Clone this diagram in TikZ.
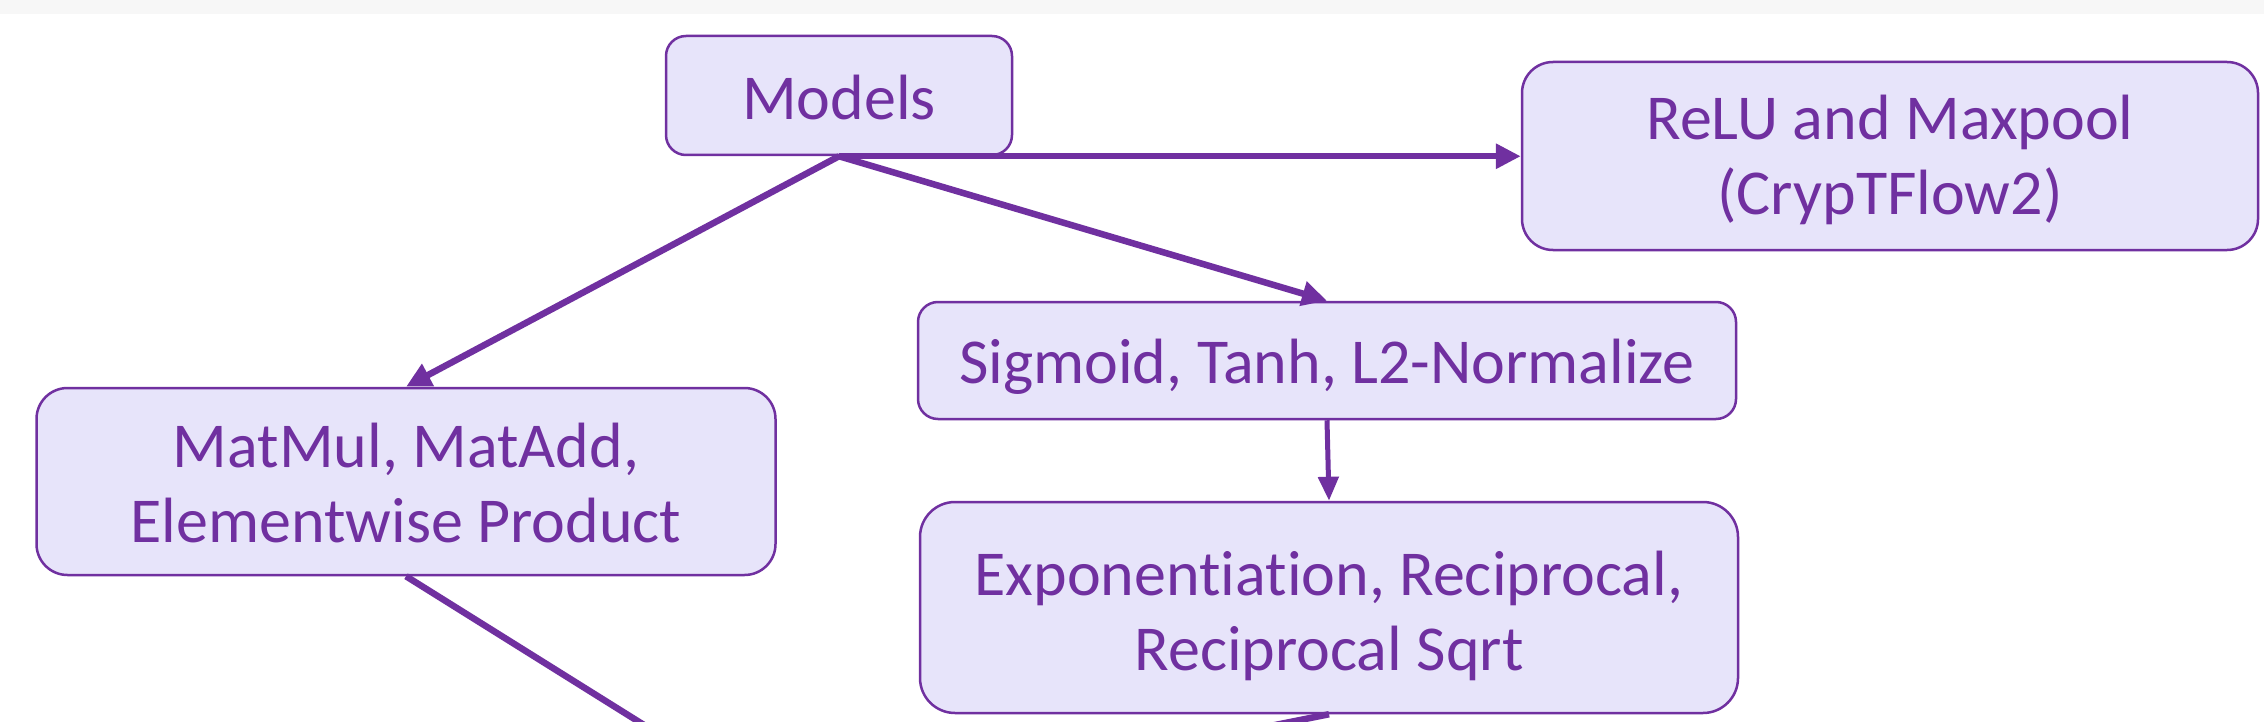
\documentclass[tikz,border=0pt]{standalone}
\usepackage{fontspec}
\setmainfont{Carlito}[RawFeature={-liga}]
\usetikzlibrary{arrows.meta}
\definecolor{purp}{HTML}{7030A0}
\definecolor{boxfill}{RGB}{231,228,250}
\definecolor{topband}{RGB}{247,247,247}
\newcommand{\lowr}[2]{\raisebox{-#1}[\height][\depth]{#2}}
\begin{document}
\begin{tikzpicture}[x=1pt,y=-1pt,
  opbox/.style={draw=purp, line width=2.5pt, fill=boxfill, text=purp,
    font=\fontsize{64}{75}\selectfont, align=center, inner sep=0pt,
    rounded corners=#1},
  opbox/.default=20pt,
  conn/.style={draw=purp, line width=6.5pt, -{Triangle[length=25pt,width=24pt]}},
  connthin/.style={draw=purp, line width=5pt, -{Triangle[length=24pt,width=20pt]}},
  connfree/.style={draw=purp, line width=6.5pt}]
\useasboundingbox (0,0) rectangle (2264,722);
\clip (0,0) rectangle (2264,722);
\fill[white] (0,0) rectangle (2264,722);
\fill[topband] (0,0) rectangle (2264,14);
\node[opbox=20pt, minimum width=346pt, minimum height=119pt] (models) at (839,95.5) {\lowr{2pt}{Models}};
\node[opbox=31pt, minimum width=736pt, minimum height=188pt] (relu) at (1890,156) {\lowr{4pt}{ReLU and Maxpool}\\\lowr{4pt}{(CrypTFlow2)}};
\node[opbox=20pt, minimum width=818pt, minimum height=117pt] (sig) at (1327,360.5) {\lowr{6pt}{Sigmoid, Tanh, L2-Normalize}};
\node[opbox=31pt, minimum width=739pt, minimum height=187pt] (mat) at (406,481.5) {\lowr{2pt}{MatMul, MatAdd,}\\\lowr{2pt}{Elementwise Product}};
\node[opbox=35pt, minimum width=818pt, minimum height=211pt] (exp) at (1329,607.5) {\lowr{8pt}{Exponentiation, Reciprocal,}\\\lowr{8pt}{Reciprocal Sqrt}};
\coordinate (src) at (models.south);
\coordinate (matout) at (724,775);
\coordinate (expout) at (1100,760);
\draw[conn] (src) -- (src -| relu.west);
\draw[conn] (src) -- (mat.north);
\draw[conn] (src) -- (sig.north);
\draw[connthin] (sig.south) -- (exp.north);
\draw[connfree] (mat.south) -- (matout);
\draw[connfree] (exp.south) -- (expout);
\end{tikzpicture}
\end{document}
